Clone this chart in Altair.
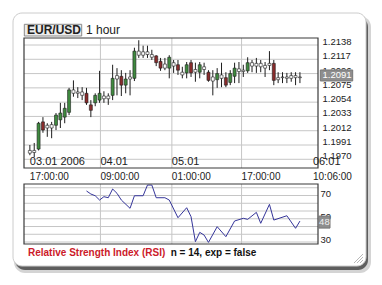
import altair as alt
import pandas as pd

# ---------------- data ----------------
hours = list(range(63))
opens = [1.1979, 1.1983, 1.1985, 1.2025, 1.2016, 1.2016, 1.2020, 1.2028, 1.2032, 1.2039,
         1.2072, 1.2067, 1.2069, 1.2067, 1.2050, 1.2053, 1.2057, 1.2063, 1.2059, 1.2064,
         1.2088, 1.2092, 1.2079, 1.2088, 1.2089, 1.2129, 1.2123, 1.2128, 1.2124, 1.2122,
         1.2114, 1.2104, 1.2104, 1.2112, 1.2109, 1.2098, 1.2097, 1.2112, 1.2098, 1.2098,
         1.2106, 1.2098, 1.2085, 1.2087, 1.2094, 1.2090, 1.2083, 1.2092, 1.2103, 1.2099,
         1.2100, 1.2112, 1.2107, 1.2111, 1.2104, 1.2108, 1.2111, 1.2087, 1.2090, 1.2091,
         1.2089, 1.2093, 1.2090]
highs = [1.1991, 1.1994, 1.2025, 1.2032, 1.2023, 1.2025, 1.2038, 1.2053, 1.2053, 1.2075,
         1.2086, 1.2076, 1.2076, 1.2075, 1.2057, 1.2067, 1.2100, 1.2070, 1.2067, 1.2109,
         1.2104, 1.2101, 1.2097, 1.2101, 1.2134, 1.2145, 1.2137, 1.2137, 1.2131, 1.2123,
         1.2119, 1.2119, 1.2123, 1.2116, 1.2116, 1.2106, 1.2113, 1.2116, 1.2112, 1.2113,
         1.2112, 1.2101, 1.2101, 1.2104, 1.2112, 1.2098, 1.2101, 1.2112, 1.2113, 1.2109,
         1.2120, 1.2116, 1.2119, 1.2116, 1.2113, 1.2129, 1.2116, 1.2098, 1.2098, 1.2097,
         1.2098, 1.2098, 1.2098]
lows = [1.1976, 1.1973, 1.1983, 1.2009, 1.2003, 1.2001, 1.2013, 1.2016, 1.2023, 1.2035,
        1.2062, 1.2060, 1.2057, 1.2050, 1.2032, 1.2048, 1.2053, 1.2053, 1.2050, 1.2057,
        1.2064, 1.2063, 1.2067, 1.2064, 1.2085, 1.2119, 1.2119, 1.2119, 1.2116, 1.2107,
        1.2100, 1.2101, 1.2089, 1.2097, 1.2094, 1.2089, 1.2089, 1.2091, 1.2084, 1.2089,
        1.2094, 1.2084, 1.2064, 1.2075, 1.2076, 1.2076, 1.2079, 1.2082, 1.2082, 1.2091,
        1.2097, 1.2098, 1.2097, 1.2098, 1.2091, 1.2101, 1.2079, 1.2082, 1.2082, 1.2082,
        1.2084, 1.2079, 1.2082]
closes = [1.1983, 1.1980, 1.2023, 1.2013, 1.2020, 1.2021, 1.2035, 1.2038, 1.2045, 1.2072,
          1.2067, 1.2069, 1.2064, 1.2053, 1.2042, 1.2064, 1.2067, 1.2059, 1.2063, 1.2089,
          1.2093, 1.2079, 1.2088, 1.2091, 1.2129, 1.2123, 1.2128, 1.2124, 1.2120, 1.2112,
          1.2104, 1.2110, 1.2120, 1.2107, 1.2101, 1.2094, 1.2109, 1.2097, 1.2102, 1.2109,
          1.2102, 1.2086, 1.2091, 1.2096, 1.2089, 1.2079, 1.2096, 1.2104, 1.2099, 1.2101,
          1.2112, 1.2107, 1.2111, 1.2106, 1.2108, 1.2111, 1.2086, 1.2090, 1.2091, 1.2089,
          1.2093, 1.2090, 1.2091]

rsi_hours = [13, 14, 15, 16, 17, 18, 19, 20, 21, 23, 24, 26, 27, 28, 29, 31, 32, 34, 36, 37,
             38, 39, 40, 41, 43, 45, 47, 49, 50, 52, 53, 55, 56, 59, 61, 62]
rsi_values = [73.9, 71.3, 69.8, 66.1, 69.0, 68.1, 75.6, 71.9, 66.1, 59.0, 69.8, 69.8, 79.0, 79.0,
              68.1, 68.1, 66.1, 50.9, 59.5, 51.8, 30.3, 38.3, 36.0, 29.7, 43.2, 34.6, 48.1, 50.4,
              49.5, 55.5, 46.1, 62.4, 48.9, 52.6, 41.8, 48.0]

price_ticks = [1.2138, 1.2117, 1.2096, 1.2075, 1.2054, 1.2033, 1.2012, 1.1991, 1.1970]
rsi_grid = [30, 36.67, 43.33, 50, 56.67, 63.33, 70, 76.67]
rsi_ticks = [30, 50, 70]
grid_hours = [16.2, 32.6, 48.6]
time_pos = [0, 16.2, 32.6, 48.6, 65.0]
time_labels = ["17:00:00", "09:00:00", "01:00:00", "17:00:00", "10:06:00"]
date_pos = [0, 16.2, 32.6, 65.0]
date_labels = ["03.01 2006", "04.01", "05.01", "06:01"]
symbol = "EUR/USD"
period = "1 hour"
ind_name = "Relative Strength Index (RSI)"
ind_params = "n = 14, exp = false"

# ---------------- tables ----------------
kinds = []
for o, c in zip(opens, closes):
    if abs(c - o) < 0.0007:
        kinds.append("flat")
    elif c > o:
        kinds.append("up")
    else:
        kinds.append("down")
candles = pd.DataFrame({"hour": hours, "open": opens, "high": highs, "low": lows,
                        "close": closes, "kind": kinds})
rsi = pd.DataFrame({"hour": rsi_hours, "rsi": rsi_values})
ptick = pd.DataFrame({"tick": price_ticks})
rgrid = pd.DataFrame({"v": rsi_grid})
rtick = pd.DataFrame({"v": rsi_ticks})
vgrid = pd.DataFrame({"h": grid_hours})
times = pd.DataFrame({"h": time_pos, "t": time_labels})
dates = pd.DataFrame({"h": date_pos, "t": date_labels})
last_p = pd.DataFrame({"p": [closes[-1]], "t": [f"{closes[-1]:.4f}"]})
last_r = pd.DataFrame({"v": [rsi_values[-1]], "t": [f"{rsi_values[-1]:.0f}"]})
one = pd.DataFrame({"a": [0]})

FONT = "Liberation Sans"
W, H = 294, 206
PRICE_DOM = [1.19572, 1.21483]
RSI_DOM = [28.3, 79.9]


def X(f):
    return alt.X(f, type="quantitative", axis=None,
                 scale=alt.Scale(domain=[-0.2, 65.0], nice=False, zero=False))


def PY(f):
    return alt.Y(f, type="quantitative", axis=None,
                 scale=alt.Scale(domain=PRICE_DOM, range=[130, 0], nice=False, zero=False))


def RY(f):
    return alt.Y(f, type="quantitative", axis=None,
                 scale=alt.Scale(domain=RSI_DOM, range=[206, 146], nice=False, zero=False))


base1 = alt.Chart(one)

shadow2 = base1.mark_rect(cornerRadius=11, fill="#d4d4d4").encode(
    x=alt.value(-10), x2=alt.value(347), y=alt.value(-22), y2=alt.value(235))
shadow1 = base1.mark_rect(cornerRadius=10, fill="#5e5e5e").encode(
    x=alt.value(-9), x2=alt.value(344), y=alt.value(-21), y2=alt.value(232))
card = base1.mark_rect(cornerRadius=9, fill="white", stroke="#cccccc", strokeWidth=1).encode(
    x=alt.value(-11), x2=alt.value(342), y=alt.value(-25), y2=alt.value(228))

grip = [base1.mark_rule(color="#b8b8b8", strokeWidth=1).encode(
    x=alt.value(339 - k), y=alt.value(225), x2=alt.value(339), y2=alt.value(225 - k))
    for k in (3, 6, 9)]

hgrid = alt.Chart(ptick).mark_rule(color="#c6c6c6", strokeWidth=1).encode(
    y=PY("tick"), x=alt.value(0), x2=alt.value(W))
vgrid_main = alt.Chart(vgrid).mark_rule(color="#c6c6c6", strokeWidth=1).encode(
    x=X("h"), y=alt.value(0), y2=alt.value(130))
vgrid_rsi = alt.Chart(vgrid).mark_rule(color="#c6c6c6", strokeWidth=1).encode(
    x=X("h"), y=alt.value(146), y2=alt.value(206))
rgrid_l = alt.Chart(rgrid).mark_rule(color="#c6c6c6", strokeWidth=1).encode(
    y=RY("v"), x=alt.value(0), x2=alt.value(W))

frame_main = base1.mark_rect(fill=None, stroke="#3a3a3a", strokeWidth=1.2).encode(
    x=alt.value(0), x2=alt.value(W), y=alt.value(0), y2=alt.value(130))
frame_rsi = base1.mark_rect(fill=None, stroke="#3a3a3a", strokeWidth=1.2).encode(
    x=alt.value(0), x2=alt.value(W), y=alt.value(146), y2=alt.value(206))

wicks = alt.Chart(candles).mark_rule(color="#1e1e1e", strokeWidth=1).encode(
    x=X("hour"), y=PY("low"), y2="high")
bodies = alt.Chart(candles).mark_bar(size=3, stroke="#1e1e1e", strokeWidth=0.6).encode(
    x=X("hour"), y=PY("open"), y2="close",
    fill=alt.Fill("kind:N", legend=None,
                  scale=alt.Scale(domain=["up", "down", "flat"],
                                  range=["#3f8a3f", "#8a2c2c", "#ffffff"])))

rsi_line = alt.Chart(rsi).mark_line(color="#35359a", strokeWidth=1).encode(
    x=X("hour"), y=RY("rsi"))

price_labels = alt.Chart(ptick).mark_text(
    align="left", baseline="alphabetic", font=FONT, fontSize=9.5, color="#222").encode(
    x=alt.value(298.5), y=PY("tick"), text=alt.Text("tick:Q", format=".4f"))
last_box = alt.Chart(last_p).mark_rect(fill="#8e8e8e", stroke="#777", yOffset=-7, y2Offset=4).encode(
    x=alt.value(296.3), x2=alt.value(328.7), y=PY("p"), y2=alt.Y2("p"))
last_txt = alt.Chart(last_p).mark_text(
    align="left", baseline="middle", font=FONT, fontSize=9.5, color="white", dy=-1.5).encode(
    x=alt.value(298.5), y=PY("p"), text="t:N")

rsi_labels = alt.Chart(rtick).mark_text(
    align="left", baseline="middle", font=FONT, fontSize=9.5, color="#222", dy=-2).encode(
    x=alt.value(296.5), y=RY("v"), text=alt.Text("v:Q", format="d"))
rlast_box = alt.Chart(last_r).mark_rect(fill="#8e8e8e", stroke="#777", yOffset=-5, y2Offset=7).encode(
    x=alt.value(294.7), x2=alt.value(306), y=RY("v"), y2=alt.Y2("v"))
rlast_txt = alt.Chart(last_r).mark_text(
    align="center", baseline="middle", font=FONT, fontSize=9.5, color="#eeeeee", dy=1).encode(
    x=alt.value(300.4), y=RY("v"), text="t:N")

date_txt = alt.Chart(dates).mark_text(
    align="left", baseline="alphabetic", font=FONT, fontSize=11, color="#222").encode(
    x=X("h"), y=alt.value(127), text="t:N")
time_txt = alt.Chart(times).mark_text(
    align="left", baseline="alphabetic", font=FONT, fontSize=10, color="#222").encode(
    x=X("h"), y=alt.value(141.5), text="t:N")

title_box = base1.mark_rect(fill="#ececec", stroke="#8a8a8a", strokeWidth=1).encode(
    x=alt.value(0.3), x2=alt.value(57.7), y=alt.value(-13.7), y2=alt.value(-2))
title_sym = base1.mark_text(align="left", baseline="alphabetic", font=FONT, fontSize=12,
                            fontWeight="bold", color="#222", text=symbol).encode(
    x=alt.value(3), y=alt.value(-3.6))
title_per = base1.mark_text(align="left", baseline="alphabetic", font=FONT, fontSize=12,
                            color="#222", text=period).encode(
    x=alt.value(62), y=alt.value(-3.6))

foot_name = base1.mark_text(align="left", baseline="alphabetic", font=FONT, fontSize=10,
                            fontWeight="bold", color="#cc1a2a", text=ind_name).encode(
    x=alt.value(4), y=alt.value(217.5))
foot_par = base1.mark_text(align="left", baseline="alphabetic", font=FONT, fontSize=10,
                           fontWeight="bold", color="#111", text=ind_params).encode(
    x=alt.value(146.7), y=alt.value(217.5))

chart = alt.layer(
    shadow2, shadow1, card, *grip,
    hgrid, vgrid_main, vgrid_rsi, rgrid_l,
    wicks, bodies, rsi_line,
    frame_main, frame_rsi,
    price_labels, last_box, last_txt,
    rsi_labels, rlast_box, rlast_txt,
    date_txt, time_txt,
    title_box, title_sym, title_per,
    foot_name, foot_par,
).resolve_scale(y="independent").properties(
    width=W, height=H,
    padding={"left": 24, "top": 38, "right": 64, "bottom": 41},
    autosize=alt.AutoSizeParams(type="none"),
    background="white",
).configure_view(stroke=None)

chart.save("out.html", embed_options={"renderer": "svg", "actions": False})
